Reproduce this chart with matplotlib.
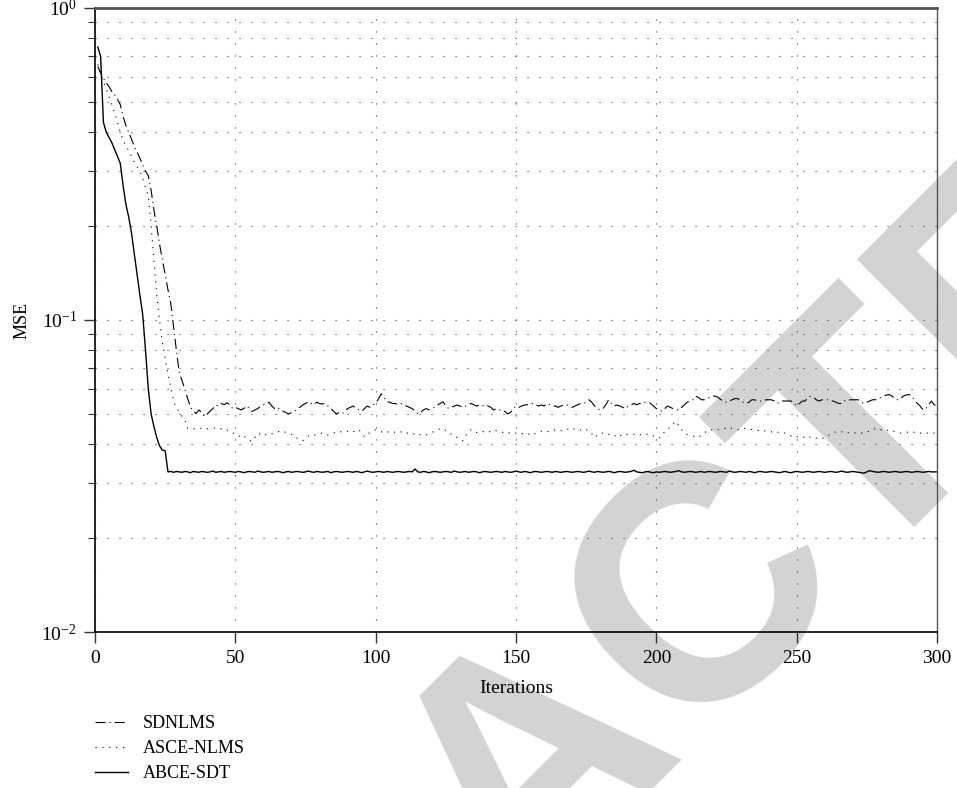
import matplotlib
matplotlib.use('Agg')
from matplotlib import pyplot as plt
from matplotlib import ticker

plt.rcParams['font.family'] = 'Liberation Serif'
plt.rcParams['mathtext.fontset'] = 'stix'

ITERATIONS = list(range(1, 301))

SDNLMS = [
    0.65, 0.62, 0.595, 0.575, 0.56, 0.54, 0.526, 0.51, 0.49, 0.45,
    0.42, 0.40, 0.38, 0.36, 0.345, 0.33, 0.314, 0.30, 0.29, 0.26,
    0.225, 0.20, 0.175, 0.156, 0.14, 0.125, 0.113, 0.095, 0.08, 0.068,
    0.064, 0.060, 0.056, 0.0527, 0.051, 0.0501, 0.0515, 0.0505, 0.049, 0.050,
    0.051, 0.052, 0.0534, 0.053, 0.054, 0.0535, 0.0543, 0.0535, 0.0521, 0.0525,
    0.052, 0.0515, 0.052, 0.053, 0.052, 0.0509, 0.0515, 0.052, 0.053, 0.0535,
    0.054, 0.0545, 0.053, 0.052, 0.0525, 0.0515, 0.051, 0.0505, 0.050, 0.0505,
    0.051, 0.0515, 0.0525, 0.0534, 0.054, 0.0547, 0.054, 0.0535, 0.0545, 0.054,
    0.0538, 0.054, 0.053, 0.0521, 0.051, 0.050, 0.0505, 0.050, 0.051, 0.052,
    0.0525, 0.053, 0.052, 0.0515, 0.051, 0.052, 0.053, 0.0525, 0.0535, 0.054,
    0.0559, 0.058, 0.0565, 0.0547, 0.0545, 0.054, 0.054, 0.0535, 0.054, 0.0534,
    0.053, 0.0525, 0.052, 0.051, 0.050, 0.0505, 0.0515, 0.052, 0.0515, 0.052,
    0.0525, 0.0534, 0.054, 0.0547, 0.053, 0.052, 0.0525, 0.053, 0.0534, 0.053,
    0.0525, 0.053, 0.0535, 0.054, 0.0535, 0.053, 0.0534, 0.053, 0.0535, 0.053,
    0.0525, 0.0515, 0.052, 0.0515, 0.0515, 0.051, 0.050, 0.0505, 0.052, 0.053,
    0.0525, 0.053, 0.0534, 0.0535, 0.054, 0.054, 0.0535, 0.053, 0.0534, 0.053,
    0.054, 0.0535, 0.053, 0.053, 0.0525, 0.053, 0.0534, 0.0535, 0.053, 0.0525,
    0.053, 0.0535, 0.054, 0.054, 0.0545, 0.0555, 0.0545, 0.053, 0.052, 0.0515,
    0.052, 0.0535, 0.0555, 0.054, 0.053, 0.0534, 0.053, 0.0525, 0.052, 0.053,
    0.0534, 0.054, 0.0535, 0.054, 0.054, 0.0545, 0.0545, 0.054, 0.053, 0.052,
    0.0515, 0.051, 0.052, 0.053, 0.0525, 0.052, 0.0515, 0.0515, 0.0525, 0.0535,
    0.0545, 0.055, 0.0555, 0.057, 0.0565, 0.0555, 0.0555, 0.056, 0.0565, 0.057,
    0.057, 0.0565, 0.0555, 0.055, 0.0545, 0.055, 0.0555, 0.056, 0.056, 0.055,
    0.0545, 0.054, 0.0545, 0.0555, 0.0555, 0.055, 0.055, 0.055, 0.0555, 0.0555,
    0.0555, 0.055, 0.054, 0.0545, 0.055, 0.055, 0.055, 0.055, 0.054, 0.053,
    0.054, 0.055, 0.055, 0.0565, 0.057, 0.0565, 0.0555, 0.055, 0.0555, 0.0555,
    0.0555, 0.055, 0.055, 0.0545, 0.054, 0.054, 0.055, 0.055, 0.0555, 0.0555,
    0.0555, 0.0555, 0.0545, 0.054, 0.0545, 0.055, 0.0555, 0.0555, 0.056, 0.0565,
    0.057, 0.0575, 0.0577, 0.057, 0.056, 0.0555, 0.056, 0.057, 0.0575, 0.0577,
    0.057, 0.0555, 0.054, 0.053, 0.0515, 0.052, 0.0534, 0.055, 0.0535, 0.053,
]

ASCE_NLMS = [
    0.66, 0.62, 0.58, 0.55, 0.52, 0.49, 0.46, 0.43, 0.40, 0.377,
    0.36, 0.35, 0.335, 0.32, 0.31, 0.30, 0.285, 0.265, 0.25, 0.20,
    0.155, 0.12, 0.10, 0.085, 0.075, 0.067, 0.061, 0.055, 0.052, 0.051,
    0.049, 0.048, 0.045, 0.0452, 0.0448, 0.045, 0.0451, 0.0449, 0.045, 0.0448,
    0.045, 0.0451, 0.0449, 0.045, 0.0448, 0.045, 0.0445, 0.0438, 0.0434, 0.0434,
    0.0428, 0.042, 0.0425, 0.0418, 0.0412, 0.0408, 0.042, 0.0434, 0.043, 0.0425,
    0.043, 0.0428, 0.0432, 0.0436, 0.0438, 0.044, 0.0441, 0.0436, 0.0434, 0.043,
    0.042, 0.0418, 0.0414, 0.041, 0.0418, 0.0425, 0.043, 0.0428, 0.0428, 0.0432,
    0.0434, 0.043, 0.0428, 0.0432, 0.0434, 0.0438, 0.0436, 0.044, 0.0438, 0.044,
    0.0442, 0.0438, 0.0445, 0.0445, 0.0435, 0.0422, 0.043, 0.0436, 0.044, 0.0445,
    0.0442, 0.0438, 0.044, 0.0436, 0.044, 0.044, 0.0436, 0.0434, 0.0438, 0.0432,
    0.0434, 0.0434, 0.043, 0.0432, 0.0426, 0.043, 0.0428, 0.0428, 0.0432, 0.0436,
    0.044, 0.0445, 0.0448, 0.045, 0.0442, 0.0434, 0.043, 0.0428, 0.042, 0.0415,
    0.041, 0.0425, 0.044, 0.0445, 0.0438, 0.0436, 0.044, 0.0438, 0.044, 0.0436,
    0.044, 0.0438, 0.0442, 0.044, 0.0436, 0.0438, 0.0434, 0.0436, 0.0432, 0.0434,
    0.0436, 0.0432, 0.0434, 0.043, 0.0432, 0.0428, 0.0434, 0.0438, 0.044, 0.0442,
    0.044, 0.0438, 0.0442, 0.0445, 0.0445, 0.0442, 0.0446, 0.0448, 0.0445, 0.045,
    0.0446, 0.0442, 0.0444, 0.044, 0.0445, 0.0442, 0.0432, 0.042, 0.0428, 0.0432,
    0.0434, 0.0436, 0.043, 0.0426, 0.0428, 0.042, 0.0425, 0.043, 0.0432, 0.0428,
    0.0428, 0.043, 0.0432, 0.0428, 0.043, 0.0428, 0.0432, 0.0428, 0.0425, 0.042,
    0.0418, 0.0425, 0.044, 0.0445, 0.0455, 0.0465, 0.0474, 0.046, 0.0445, 0.0434,
    0.043, 0.0428, 0.0425, 0.0422, 0.042, 0.0428, 0.0435, 0.044, 0.0445, 0.0445,
    0.0448, 0.0445, 0.0448, 0.045, 0.0448, 0.0446, 0.045, 0.0448, 0.0445, 0.0448,
    0.045, 0.0448, 0.0445, 0.0446, 0.0444, 0.0442, 0.0444, 0.044, 0.0442, 0.044,
    0.0438, 0.044, 0.0436, 0.0438, 0.0434, 0.0434, 0.043, 0.0425, 0.042, 0.0422,
    0.0425, 0.0422, 0.042, 0.0425, 0.042, 0.0422, 0.0418, 0.042, 0.0418, 0.0418,
    0.0425, 0.043, 0.0436, 0.0438, 0.044, 0.0438, 0.044, 0.0436, 0.0434, 0.0436,
    0.0434, 0.0432, 0.0434, 0.0434, 0.0438, 0.044, 0.0445, 0.0448, 0.045, 0.0445,
    0.0442, 0.0445, 0.044, 0.0442, 0.0438, 0.0436, 0.0434, 0.0434, 0.0436, 0.0438,
    0.044, 0.0436, 0.0438, 0.0434, 0.0436, 0.0434, 0.0434, 0.0436, 0.0434, 0.0434,
]

ABCE_SDT = [
    0.75, 0.70, 0.43, 0.40, 0.385, 0.37, 0.352, 0.335, 0.318, 0.27,
    0.235, 0.214, 0.19, 0.163, 0.14, 0.12, 0.104, 0.08, 0.06, 0.05,
    0.0455, 0.042, 0.0395, 0.0383, 0.0381, 0.0326, 0.0327, 0.0325, 0.0327, 0.0326,
    0.0325, 0.0327, 0.0326, 0.0324, 0.0327, 0.0326, 0.0325, 0.0327, 0.0326, 0.0325,
    0.0326, 0.0328, 0.0325, 0.0326, 0.0327, 0.0325, 0.0326, 0.0327, 0.0326, 0.0325,
    0.0327, 0.0326, 0.0324, 0.0326, 0.0327, 0.0326, 0.0325, 0.0328, 0.0326, 0.0325,
    0.0326, 0.0327, 0.0325, 0.0326, 0.0327, 0.0326, 0.0324, 0.0326, 0.0327, 0.0325,
    0.0326, 0.0327, 0.0326, 0.0325, 0.0326, 0.0328, 0.0326, 0.0325, 0.0327, 0.0326,
    0.0325, 0.0326, 0.0327, 0.0324, 0.0326, 0.0327, 0.0326, 0.0325, 0.0326, 0.0327,
    0.0326, 0.0325, 0.0327, 0.0326, 0.0324, 0.0326, 0.0328, 0.0326, 0.0325, 0.0326,
    0.0327, 0.0326, 0.0325, 0.0327, 0.0326, 0.0325, 0.0326, 0.0327, 0.0326, 0.0325,
    0.0326, 0.0327, 0.0326, 0.0333, 0.0326, 0.0325, 0.0327, 0.0326, 0.0324, 0.0326,
    0.0327, 0.0326, 0.0325, 0.0326, 0.0327, 0.0326, 0.0325, 0.0328, 0.0326, 0.0325,
    0.0326, 0.0327, 0.0325, 0.0326, 0.0327, 0.0326, 0.0324, 0.0326, 0.0327, 0.0326,
    0.0325, 0.0326, 0.0327, 0.0326, 0.0325, 0.0327, 0.0326, 0.0325, 0.0326, 0.0328,
    0.0326, 0.0325, 0.0327, 0.0326, 0.0324, 0.0326, 0.0327, 0.0326, 0.0325, 0.0326,
    0.0327, 0.0326, 0.0325, 0.0327, 0.0326, 0.0325, 0.0326, 0.0327, 0.0326, 0.0325,
    0.0326, 0.0327, 0.0326, 0.0325, 0.0326, 0.0328, 0.0326, 0.0325, 0.0327, 0.0326,
    0.0325, 0.0326, 0.0327, 0.0326, 0.0324, 0.0326, 0.0327, 0.0326, 0.0325, 0.0326,
    0.0327, 0.0330, 0.0326, 0.0325, 0.0324, 0.0326, 0.0327, 0.0325, 0.0324, 0.0326,
    0.0325, 0.0326, 0.0327, 0.0326, 0.0325, 0.0326, 0.0327, 0.0329, 0.0326, 0.0325,
    0.0326, 0.0327, 0.0326, 0.0325, 0.0326, 0.0327, 0.0325, 0.0326, 0.0327, 0.0326,
    0.0325, 0.0326, 0.0327, 0.0326, 0.0325, 0.0328, 0.0326, 0.0325, 0.0326, 0.0327,
    0.0326, 0.0325, 0.0327, 0.0326, 0.0324, 0.0326, 0.0327, 0.0326, 0.0325, 0.0326,
    0.0327, 0.0326, 0.0325, 0.0324, 0.0326, 0.0327, 0.0325, 0.0324, 0.0326, 0.0327,
    0.0326, 0.0325, 0.0326, 0.0327, 0.0326, 0.0325, 0.0326, 0.0327, 0.0326, 0.0325,
    0.0326, 0.0327, 0.0326, 0.0325, 0.0326, 0.0328, 0.0326, 0.0325, 0.0326, 0.0327,
    0.0326, 0.0325, 0.0324, 0.0323, 0.0326, 0.0329, 0.0327, 0.0326, 0.0325, 0.0326,
    0.0327, 0.0326, 0.0325, 0.0326, 0.0327, 0.0326, 0.0325, 0.0326, 0.0327, 0.0326,
    0.0325, 0.0326, 0.0327, 0.0326, 0.0325, 0.0326, 0.0327, 0.0326, 0.0326, 0.0326,
]

X_TICKS = [0, 50, 100, 150, 200, 250, 300]

fig = plt.figure(figsize=(9.57, 7.88), dpi=100)
ax = fig.add_axes([95 / 957, 1 - 632 / 788, 842 / 957, 624 / 788])
ax.patch.set_visible(False)

# grey diagonal stamp behind the axes
fig.text(597 / 957, 1 - 822 / 788, 'RETRACTED', transform=fig.transFigure,
         rotation=45, rotation_mode='anchor', ha='center', va='baseline',
         fontsize=241, fontweight='bold', family='Liberation Sans',
         color='#d3d3d3', zorder=-5)

ax.plot(ITERATIONS, SDNLMS, color='black', lw=0.8,
        dashes=(9, 3.6, 1, 3.6), label='SDNLMS')
ax.plot(ITERATIONS, ASCE_NLMS, color='black', lw=0.8,
        dashes=(1, 5.2), label='ASCE-NLMS')
ax.plot(ITERATIONS, ABCE_SDT, color='black', lw=1.0, label='ABCE-SDT')

ax.set_yscale('log')
ax.set_xlim(0, 300)
ax.set_ylim(1e-2, 1)
ax.set_xticks(X_TICKS)
ax.yaxis.set_minor_formatter(ticker.NullFormatter())

grid_style = dict(color='#444444', lw=0.8, dashes=(1, 9.8))
ax.grid(which='major', axis='both', **grid_style)
ax.grid(which='minor', axis='y', **grid_style)

ax.tick_params(which='major', direction='out', length=8, width=1.0,
               labelsize=14, pad=5, color='#333333')
ax.tick_params(which='minor', direction='out', length=5, width=0.8,
               color='#333333')

for side in ('left', 'bottom'):
    ax.spines[side].set_linewidth(1.2)
ax.spines['top'].set_color('#555555')
ax.spines['top'].set_linewidth(2.0)
ax.spines['right'].set_color('#555555')
ax.spines['right'].set_linewidth(1.0)

ax.set_xlabel('Iterations', fontsize=14, labelpad=9)
ax.set_ylabel('MSE', fontsize=13, labelpad=8)

ax.legend(loc='upper left', bbox_to_anchor=(0, -0.133), frameon=False,
          fontsize=13, handlelength=1.85, handletextpad=0.8,
          labelspacing=0.45, borderpad=0, borderaxespad=0)

fig.savefig('out.png', dpi=100)
